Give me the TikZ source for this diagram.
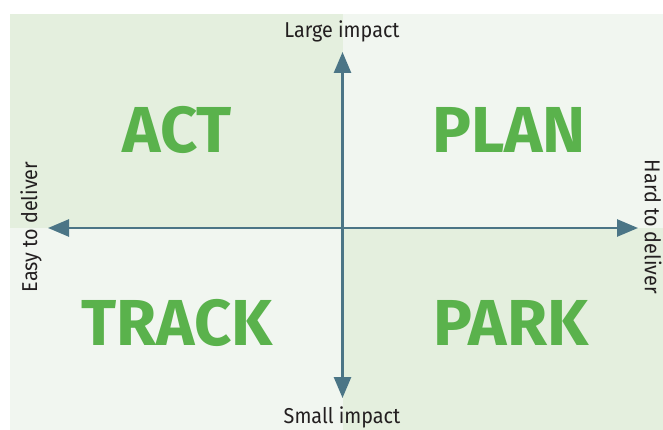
\documentclass[tikz,border=0pt]{standalone}
\usepackage{fontspec}
\setmainfont{Fira Sans}
\newfontfamily\narrowlabel[FakeStretch=0.92]{Fira Sans}
\usetikzlibrary{arrows.meta}
\definecolor{quadDark}{HTML}{E4EFDE}
\definecolor{quadLight}{HTML}{F1F6F0}
\definecolor{axisBlue}{HTML}{4B7586}
\definecolor{wordGreen}{HTML}{5AB24C}
\definecolor{labelInk}{HTML}{231F20}
\tikzset{
  axisline/.style={draw=axisBlue, line width=2.6pt,
    {Triangle[length=21pt,width=17pt]}-{Triangle[length=21pt,width=17pt]}},
  quadword/.style={text=wordGreen, font=\fontsize{65}{70}\selectfont\bfseries, inner sep=0pt},
  axislabel/.style={text=labelInk, font=\narrowlabel\fontsize{21.5}{24}\selectfont, inner sep=0pt}
}
\begin{document}
\begin{tikzpicture}[x=1pt,y=-1pt]
  \useasboundingbox (0,0) rectangle (663,430);
  % quadrant backgrounds
  \fill[quadDark]  (10,14)  rectangle (342.5,228);
  \fill[quadLight] (342.5,14) rectangle (663,228);
  \fill[quadLight] (10,228) rectangle (342.5,430);
  \fill[quadDark]  (342.5,228) rectangle (663,430);
  % axis end points
  \coordinate (top) at (342.5,52);
  \coordinate (bottom) at (342.5,398);
  \coordinate (left) at (48,228);
  \coordinate (right) at (638,228);
  \draw[axisline] (bottom) -- (top);
  \draw[axisline] (left) -- (right);
  % axis labels
  \node[axislabel] (large) at (342,31) {Large impact};
  \node[axislabel] (small) at (342,417) {Small impact};
  \node[axislabel, rotate=90] (easy) at (31,227) {Easy to deliver};
  \node[axislabel, rotate=-90] (hard) at (653,227) {Hard to deliver};
  % quadrant names
  \node[quadword] (act) at (177,130) {ACT};
  \node[quadword] (plan) at (509,130) {PLAN};
  \node[quadword] (track) at (177,323) {TRACK};
  \node[quadword] (park) at (511,323) {PARK};
\end{tikzpicture}
\end{document}
